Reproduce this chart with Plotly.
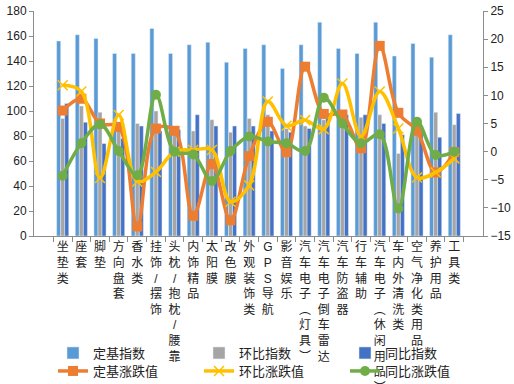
import plotly.graph_objects as go

categories = ["坐垫类", "座套", "脚垫", "方向盘套", "香水类", "挂饰/摆饰", "头枕/抱枕/腰靠",
              "内饰精品", "太阳膜", "改色膜", "外观装饰类", "GPS导航", "影音娱乐",
              "汽车电子（灯具）", "汽车电子倒车雷达", "汽车防盗器", "行车辅助",
              "汽车电子（休闲用品）", "车内外清洗类", "空气净化类用品", "养护用品", "工具类"]

base_index = [156, 161, 158, 146, 146, 166, 146, 153, 155, 139, 150, 153, 134, 153, 171, 150, 146, 171, 144, 154, 143, 161]
mom_index = [94, 104, 99, 87, 90, 100, 86, 84, 93, 83, 94, 97, 86, 88, 93, 95, 95, 97, 66, 93, 99, 89]
yoy_index = [106, 91, 74, 78, 88, 84, 85, 97, 88, 88, 88, 84, 83, 86, 94, 97, 97, 90, 81, 88, 79, 98]

base_change = [7.3, 9.4, 5.0, 4.4, -13.3, 4.1, 3.7, -11.4, -2.2, -12.2, -0.8, 5.3, -0.1, 15.1, 6.7, 6.6, 0.6, 18.8, 6.9, 3.7, -3.7, -0.1]
mom_change = [11.8, 10.7, -4.7, 6.5, -5.3, -3.6, 0.0, 0.3, 0.3, -8.9, -6.0, 8.9, 4.6, 5.6, 4.0, 12.1, 2.7, 10.7, 4.1, -4.6, -3.7, -1.2]
yoy_change = [-4.3, 1.5, 4.85, 0.1, -4.2, 10.1, 0.0, -0.5, -5.2, 0.1, 2.7, 1.8, 1.5, 0.1, 9.6, 5.0, 1.5, 3.1, -10.1, 5.3, -0.6, 0.0]

left_ticks = list(range(0, 181, 20))
right_ticks = list(range(-15, 26, 5))


def vertical(label):
    label = label.replace("（", "︵").replace("）", "︶")
    return "<br>".join(list(label))


ticktext = [vertical(c) for c in categories]

FONT = "Liberation Sans, Noto Sans CJK SC, sans-serif"
C_LB = "#5B9BD5"
C_GR = "#A5A5A5"
C_DB = "#4472C4"
C_OR = "#ED7D31"
C_YE = "#FFC000"
C_GN = "#70AD47"
AX = "#8C8C8C"

fig = go.Figure()
fig.add_trace(go.Bar(x=categories, y=base_index, name="定基指数", marker_color=C_LB, legend="legend"))
fig.add_trace(go.Bar(x=categories, y=mom_index, name="环比指数", marker_color=C_GR, legend="legend"))
fig.add_trace(go.Bar(x=categories, y=yoy_index, name="同比指数", marker_color=C_DB, legend="legend"))

fig.add_trace(go.Scatter(x=categories, y=base_change, name="定基涨跌值", yaxis="y2", mode="lines+markers",
                         line=dict(color=C_OR, width=3.5, shape="spline", smoothing=1),
                         marker=dict(symbol="square", size=10, color=C_OR), legend="legend2"))
fig.add_trace(go.Scatter(x=categories, y=mom_change, name="环比涨跌值", yaxis="y2", mode="lines+markers",
                         line=dict(color=C_YE, width=3.5, shape="spline", smoothing=1),
                         marker=dict(symbol="x-thin-open", size=10, color=C_YE, line=dict(color=C_YE, width=1.5)),
                         legend="legend2"))
fig.add_trace(go.Scatter(x=categories, y=yoy_change, name="同比涨跌值", yaxis="y2", mode="lines+markers",
                         line=dict(color=C_GN, width=3.5, shape="spline", smoothing=1),
                         marker=dict(symbol="circle", size=10, color=C_GN), legend="legend2"))

leg_common = dict(orientation="h", xref="paper", yref="paper", xanchor="left", yanchor="middle",
                  entrywidth=101, entrywidthmode="pixels", bgcolor="rgba(0,0,0,0)",
                  font=dict(family=FONT, size=13, color="#222"), traceorder="normal")

fig.update_layout(
    width=514, height=384,
    margin=dict(l=34, r=31, t=11, b=148, autoexpand=False),
    paper_bgcolor="white", plot_bgcolor="white",
    barmode="group", bargap=0.35, bargroupgap=0,
    font=dict(family=FONT, size=12, color="#222"),
    xaxis=dict(type="category", tickmode="array", tickvals=categories, ticktext=ticktext,
               tickangle=0, showline=True, linecolor=AX, linewidth=1, automargin=False,
               ticks="outside", tickson="boundaries", ticklen=5, tickcolor=AX,
               tickfont=dict(family=FONT, size=12, color="#222"), showgrid=False),
    yaxis=dict(range=[0, 180], tickmode="array", tickvals=left_ticks, showline=True, linecolor=AX,
               ticks="outside", ticklen=4, tickcolor=AX, showgrid=False, zeroline=False, automargin=False,
               tickfont=dict(family=FONT, size=12, color="#222")),
    yaxis2=dict(range=[-15, 25], tickmode="array", tickvals=right_ticks, overlaying="y", side="right",
                showline=True, linecolor=AX, ticks="outside", ticklen=4, tickcolor=AX, automargin=False,
                showgrid=False, zeroline=False, tickfont=dict(family=FONT, size=12, color="#222")),
    legend=dict(x=(53 - 34) / 449, y=(236 - 353) / 225, **leg_common),
    legend2=dict(x=(53 - 34) / 449, y=(236 - 371) / 225, **leg_common),
)

fig.write_html("out.html", config={"displayModeBar": False},
               post_script="document.body.style.margin='0';document.body.style.overflow='hidden';")
